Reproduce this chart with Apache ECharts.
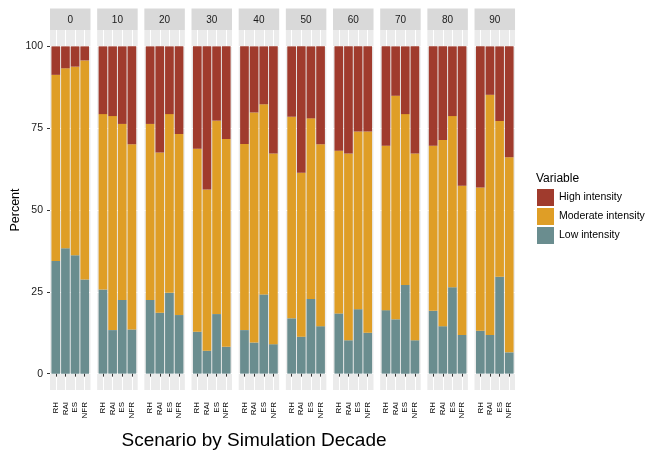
<!DOCTYPE html>
<html>
<head>
<meta charset="utf-8">
<title>Scenario by Simulation Decade</title>
<script src="https://cdn.jsdelivr.net/npm/echarts@6.0.0/dist/echarts.min.js"></script>
<style>
  html, body { margin: 0; padding: 0; background: #ffffff; }
  #chart { width: 646px; height: 460px; }
</style>
</head>
<body>
<div id="chart"></div>
<script>
// Facet strips (simulation decade) and the scenarios inside each facet
const decades = ['0', '10', '20', '30', '40', '50', '60', '70', '80', '90'];
const scenarios = ['RH', 'RAI', 'ES', 'NFR'];
const percentTicks = [0, 25, 50, 75, 100];

// Percent of area in each intensity class; one row per decade, columns follow `scenarios`
const lowIntensity = [
  [34.4, 38.3, 36.2, 28.8],
  [25.7, 13.3, 22.5, 13.5],
  [22.5, 18.6, 24.7, 17.9],
  [12.8,  7.0, 18.2,  8.2],
  [13.3,  9.5, 24.2,  9.0],
  [16.9, 11.3, 22.8, 14.5],
  [18.4, 10.2, 19.7, 12.5],
  [19.4, 16.6, 27.1, 10.2],
  [19.2, 14.5, 26.4, 11.8],
  [13.1, 11.8, 29.6,  6.5]
];
const moderateIntensity = [
  [56.9, 55.0, 57.6, 66.9],
  [53.6, 65.4, 53.8, 56.6],
  [53.8, 49.0, 54.6, 55.3],
  [55.9, 49.3, 59.1, 63.5],
  [56.9, 70.3, 58.1, 58.3],
  [61.6, 50.1, 55.2, 55.6],
  [49.7, 57.1, 54.3, 61.5],
  [50.2, 68.3, 52.2, 57.1],
  [50.4, 56.9, 52.3, 45.6],
  [43.8, 73.4, 47.6, 59.6]
];
const highIntensity = [
  [ 8.7,  6.7,  6.2,  4.3],
  [20.7, 21.3, 23.7, 29.9],
  [23.7, 32.4, 20.7, 26.8],
  [31.3, 43.7, 22.7, 28.3],
  [29.8, 20.2, 17.7, 32.7],
  [21.5, 38.6, 22.0, 29.9],
  [31.9, 32.7, 26.0, 26.0],
  [30.4, 15.1, 20.7, 32.7],
  [30.4, 28.6, 21.3, 42.6],
  [43.1, 14.8, 22.8, 33.9]
];

const levels = [
  { name: 'Low intensity',      values: lowIntensity,      color: '#6A8D8F' },
  { name: 'Moderate intensity', values: moderateIntensity, color: '#DF9E26' },
  { name: 'High intensity',     values: highIntensity,     color: '#A03B2D' }
];

// Facet layout
const FONT = 'Liberation Sans, Arial, sans-serif';
const PANEL_LEFT = 50, PANEL_W = 40.5, PANEL_GAP = 6.67;
const PANEL_TOP = 30, PANEL_H = 360;
const STRIP_TOP = 8.5, STRIP_H = 21.5;
const panelX = i => PANEL_LEFT + i * (PANEL_W + PANEL_GAP);

const grids = [], xAxes = [], yAxes = [], series = [], graphics = [];

decades.forEach((decade, i) => {
  grids.push({
    left: panelX(i), top: PANEL_TOP, width: PANEL_W, height: PANEL_H,
    show: true, backgroundColor: '#EBEBEB', borderWidth: 0, containLabel: false
  });

  // scenario positions 1..4 on a continuous axis with 0.6 padding each side
  xAxes.push({
    type: 'value', gridIndex: i, min: 0.4, max: 4.6,
    axisLine: { show: false },
    axisTick: { show: true, customValues: [1, 2, 3, 4], length: 3, lineStyle: { color: '#333333', width: 1 } },
    axisLabel: {
      show: true, customValues: [1, 2, 3, 4], rotate: 90, margin: 12,
      fontSize: 8, color: '#000000', fontFamily: FONT,
      formatter: v => scenarios[Math.round(v) - 1] || ''
    },
    splitLine: { show: true, lineStyle: { color: '#ffffff', width: 1 } }
  });

  yAxes.push({
    type: 'value', gridIndex: i, min: -5, max: 105,
    axisLine: { show: false },
    axisTick: { show: i === 0, customValues: percentTicks, length: 3, lineStyle: { color: '#333333', width: 1 } },
    axisLabel: {
      show: i === 0, customValues: percentTicks, margin: 7,
      fontSize: 10.5, color: '#1a1a1a', fontFamily: FONT
    },
    splitLine: { show: true, lineStyle: { color: '#ffffff', width: 1 } },
    name: i === 0 ? 'Percent' : '',
    nameLocation: 'middle', nameRotate: 90, nameGap: 28,
    nameTextStyle: { fontSize: 12.5, color: '#000000', fontFamily: FONT }
  });

  levels.forEach(level => {
    series.push({
      type: 'bar', name: level.name,
      xAxisIndex: i, yAxisIndex: i, stack: 'decade' + i,
      barWidth: '90%',
      itemStyle: { color: level.color },
      emphasis: { disabled: true },
      // value first so the percent dimension is the stacked one
      encode: { x: 1, y: 0 },
      data: scenarios.map((s, j) => [level.values[i][j], j + 1])
    });
  });

  // facet strip with the decade label
  graphics.push({
    type: 'group', left: panelX(i), top: STRIP_TOP,
    children: [
      { type: 'rect', shape: { x: 0, y: 0, width: PANEL_W, height: STRIP_H }, style: { fill: '#D9D9D9' } },
      { type: 'text', x: PANEL_W / 2, y: STRIP_H / 2 + 0.5,
        style: { text: decade, fill: '#1a1a1a', font: '10px ' + FONT, align: 'center', verticalAlign: 'middle' } }
    ]
  });
});

// legend title
graphics.push({
  type: 'text', left: 536, top: 173,
  style: { text: 'Variable', fill: '#000000', font: '12px ' + FONT }
});
// x axis title
graphics.push({
  type: 'text', x: 254, y: 441,
  style: { text: 'Scenario by Simulation Decade', fill: '#000000', font: '19px ' + FONT, align: 'center', verticalAlign: 'middle' }
});

const chart = echarts.init(document.getElementById('chart'), null, { renderer: 'canvas' });
chart.setOption({
  backgroundColor: '#ffffff',
  animation: false,
  grid: grids,
  xAxis: xAxes,
  yAxis: yAxes,
  legend: {
    data: ['High intensity', 'Moderate intensity', 'Low intensity'],
    orient: 'vertical', left: 537, top: 189, padding: 0,
    itemWidth: 17, itemHeight: 17, itemGap: 2, icon: 'rect',
    selectedMode: false,
    textStyle: { fontSize: 10.5, color: '#000000', fontFamily: FONT }
  },
  graphic: graphics,
  series: series
});
</script>
</body>
</html>
